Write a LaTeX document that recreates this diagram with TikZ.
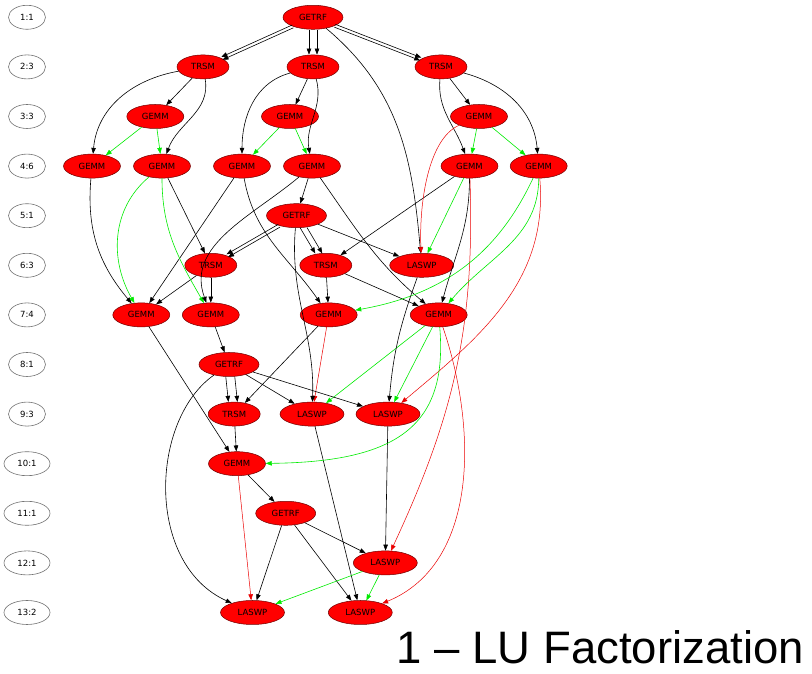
\documentclass[tikz,border=0pt]{standalone}
\usepackage{fontspec}
\usetikzlibrary{shapes.geometric,arrows.meta}
\newfontfamily\dvfont{DejaVu Sans}
\newfontfamily\ttlfont{Liberation Sans}
\definecolor{edgegreen}{RGB}{0,235,0}
\definecolor{edgered}{RGB}{235,0,0}
\definecolor{nodered}{RGB}{255,0,0}
\definecolor{noderim}{RGB}{110,0,0}
\tikzset{
  rankbox/.style={ellipse, draw=black!55, fill=white, line width=0.6pt, minimum width=37pt, minimum height=24pt, inner sep=0pt, font=\dvfont\fontsize{8.5}{9}\selectfont},
  widerank/.style={rankbox, minimum width=46pt},
  taskbox/.style={ellipse, draw=noderim, fill=nodered, line width=0.5pt, minimum height=24pt, inner sep=0pt, font=\dvfont\fontsize{8.5}{9}\selectfont},
  getrfbox/.style={taskbox, minimum width=60pt},
  trsmbox/.style={taskbox, minimum width=52pt},
  gemmbox/.style={taskbox, minimum width=57pt},
  laswpbox/.style={taskbox, minimum width=64pt},
  dep/.style={draw=black, line width=0.6pt, -{Triangle[length=6pt,width=4.5pt]}},
  gdep/.style={dep, draw=edgegreen},
  rdep/.style={dep, draw=edgered, line width=0.5pt}
}
\begin{document}
\begin{tikzpicture}[x=1pt,y=1pt]
\useasboundingbox (0,0) rectangle (812,674);
% rank labels
\node[rankbox] (r1) at (27,656.7) {1:1};
\node[rankbox] (r2) at (27,607.1) {2:3};
\node[rankbox] (r3) at (27,557.5) {3:3};
\node[rankbox] (r4) at (27,507.9) {4:6};
\node[rankbox] (r5) at (27,458.3) {5:1};
\node[rankbox] (r6) at (27,408.7) {6:3};
\node[rankbox] (r7) at (27,359.1) {7:4};
\node[rankbox] (r8) at (27,309.5) {8:1};
\node[rankbox] (r9) at (27,259.9) {9:3};
\node[widerank] (r10) at (27,210.3) {10:1};
\node[widerank] (r11) at (27,160.7) {11:1};
\node[widerank] (r12) at (27,111.1) {12:1};
\node[widerank] (r13) at (27,61.5) {13:2};
% tasks
\node[getrfbox] (A1) at (313,656.7) {GETRF};
\node[trsmbox] (T2a) at (203,607.1) {TRSM};
\node[trsmbox] (T2b) at (313,607.1) {TRSM};
\node[trsmbox] (T2c) at (441,607.1) {TRSM};
\node[gemmbox] (G3a) at (155.3,557.5) {GEMM};
\node[gemmbox] (G3b) at (290,557.5) {GEMM};
\node[gemmbox] (G3c) at (479,557.5) {GEMM};
\node[gemmbox] (G4a) at (92,507.9) {GEMM};
\node[gemmbox] (G4b) at (162,507.9) {GEMM};
\node[gemmbox] (G4c) at (242,507.9) {GEMM};
\node[gemmbox] (G4d) at (312,507.9) {GEMM};
\node[gemmbox] (G4e) at (469.5,507.9) {GEMM};
\node[gemmbox] (G4f) at (538.7,507.9) {GEMM};
\node[getrfbox] (F5) at (296.5,458.3) {GETRF};
\node[trsmbox] (T6a) at (210.8,408.7) {TRSM};
\node[trsmbox] (T6b) at (325.8,408.7) {TRSM};
\node[laswpbox] (L6) at (421.7,408.7) {LASWP};
\node[gemmbox] (G7a) at (141.3,359.1) {GEMM};
\node[gemmbox] (G7b) at (210.8,359.1) {GEMM};
\node[gemmbox] (G7c) at (328.7,359.1) {GEMM};
\node[gemmbox] (G7d) at (438.7,359.1) {GEMM};
\node[getrfbox] (F8) at (229,309.5) {GETRF};
\node[trsmbox] (T9) at (234.2,259.9) {TRSM};
\node[laswpbox] (L9a) at (312,259.9) {LASWP};
\node[laswpbox] (L9b) at (388,259.9) {LASWP};
\node[gemmbox] (G10) at (237,210.3) {GEMM};
\node[getrfbox] (F11) at (285.7,160.7) {GETRF};
\node[laswpbox] (L12) at (385.3,111.1) {LASWP};
\node[laswpbox] (L13a) at (252.5,61.5) {LASWP};
\node[laswpbox] (L13b) at (360.3,61.5) {LASWP};
% title
\node[anchor=base east, inner sep=0pt, font=\ttlfont\fontsize{45.5}{50}\selectfont] (title) at (804,10) {1 – LU Factorization};

% double edges
\draw[dep,transform canvas={shift={(0.6,-1.4)}}] (A1) -- (T2a);
\draw[dep,transform canvas={shift={(-0.6,1.4)}}] (A1) -- (T2a);
\draw[dep,transform canvas={shift={(-4,0)}}] (A1) -- (T2b);
\draw[dep,transform canvas={shift={(4,0)}}] (A1) -- (T2b);
\draw[dep,transform canvas={shift={(0.55,1.4)}}] (A1) -- (T2c);
\draw[dep,transform canvas={shift={(-0.55,-1.4)}}] (A1) -- (T2c);
\draw[dep,transform canvas={shift={(0.8,-1.4)}}] (F5) -- (T6a);
\draw[dep,transform canvas={shift={(-0.8,1.4)}}] (F5) -- (T6a);
\draw[dep,transform canvas={shift={(-3.5,0)}}] (F5) -- (T6b);
\draw[dep,transform canvas={shift={(3.5,0)}}] (F5) -- (T6b);
\draw[dep,transform canvas={shift={(-4.5,0)}}] (F8) -- (T9);
\draw[dep,transform canvas={shift={(4.5,0)}}] (F8) -- (T9);

% straight edges
\draw[dep] (T2a) -- (G3a);
\draw[dep] (T2b) -- (G3b);
\draw[dep] (T2c) -- (G3c);
\draw[gdep] (G3a) -- (G4a);
\draw[gdep] (G3a) -- (G4b);
\draw[gdep] (G3b) -- (G4c);
\draw[gdep] (G3b) -- (G4d);
\draw[gdep] (G3c) -- (G4e);
\draw[gdep] (G3c) -- (G4f);
\draw[dep] (G4b) -- (T6a);
\draw[dep] (G4c) -- (G7a);
\draw[dep] (G4d) -- (F5);
\draw[dep] (G4e) -- (T6b);
\draw[gdep] (G4e) -- (L6);
\draw[dep] (F5) -- (L6);
\draw[dep] (T6a) -- (G7a);
\draw[dep] (T6a) -- (G7b);
\draw[dep] (T6b) -- (G7c);
\draw[dep] (T6b) -- (G7d);
\draw[dep] (G7a) -- (G10);
\draw[dep] (G7b) -- (F8);
\draw[rdep] (G7c) -- (L9a);
\draw[dep] (G7c) -- (T9);
\draw[gdep] (G7d) -- (L9a);
\draw[gdep] (G7d) -- (L9b);
\draw[dep] (F8) -- (L9a);
\draw[dep] (F8) -- (L9b);
\draw[dep] (T9) -- (G10);
\draw[dep] (L9a) -- (L13b);
\draw[dep] (L9b) -- (L12);
\draw[dep] (G10) -- (F11);
\draw[rdep] (G10) -- (L13a);
\draw[dep] (F11) -- (L12);
\draw[dep] (F11) -- (L13a);
\draw[dep] (F11) -- (L13b);
\draw[gdep] (L12) -- (L13a);
\draw[gdep] (L12) -- (L13b);

% curved edges
\draw[dep] (A1) to[out=-40,in=95] (L6);
\draw[dep] (T2a) to[out=190,in=85] (G4a);
\draw[dep] (T2a) to[out=-80,in=70] (G4b);
\draw[dep] (T2b) to[out=195,in=90] (G4c);
\draw[dep] (T2b) to[out=-75,in=100] (G4d);
\draw[dep] (T2c) to[out=-95,in=110] (G4e);
\draw[dep] (T2c) to[out=-15,in=95] (G4f);
\draw[rdep] (G3c) .. controls (428,535) and (419,470) .. (L6);
\draw[dep] (G4a) to[out=-95,in=130] (G7a);
\draw[gdep] (G4b) to[out=-140,in=120] (G7a);
\draw[gdep] (G4b) to[out=-90,in=120] (G7b);
\draw[dep] (G4c) to[out=-80,in=125] (G7c);
\draw[dep] (G4d) to[out=-140,in=110] (G7b);
\draw[dep] (G4d) to[out=-55,in=140] (G7d);
\draw[dep] (G4e) to[out=-90,in=75] (G7d);
\draw[rdep] (G4e) to[out=-88,in=65] (L12);
\draw[gdep] (G4f) to[out=-115,in=10] (G7c);
\draw[gdep] (G4f) to[out=-90,in=50] (G7d);
\draw[rdep] (G4f) to[out=-85,in=40] (L9b);
\draw[dep] (F5) to[out=-95,in=88] (L9a);
\draw[dep] (L6) to[out=-110,in=85] (L9b);
\draw[gdep] (G7d) .. controls (448,250) and (400,212) .. (G10);
\draw[rdep] (G7d) .. controls (478,244) and (478,110) .. (L13b);
\draw[dep] (F8) .. controls (150,254) and (145,110) .. (L13a);
\end{tikzpicture}
\end{document}
